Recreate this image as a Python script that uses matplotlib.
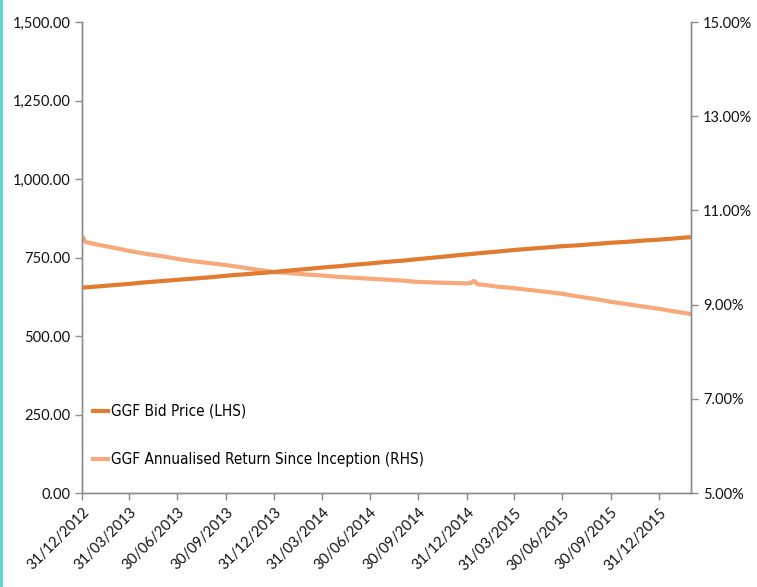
import matplotlib
matplotlib.use("Agg")
import matplotlib.pyplot as plt
import matplotlib.dates as mdates
from matplotlib.lines import Line2D
from matplotlib.ticker import FuncFormatter, MultipleLocator
from matplotlib import font_manager
import pandas as pd

# month-end bid price (LHS)
price_dates = pd.date_range("2012-12-31", "2016-02-29", freq="ME")
bid_price = [654, 658, 662, 666, 671, 675, 679, 683, 687, 692, 696, 700,
             704, 709, 713, 718, 722, 727, 731, 736, 740, 745, 750, 755,
             760, 765, 769, 774, 778, 782, 786, 789, 793, 797, 800, 804,
             807, 811, 815]

# annualised return since inception, % (RHS)
return_dates = pd.to_datetime([
    "2012-12-31", "2013-01-07", "2013-01-31", "2013-02-28", "2013-03-31",
    "2013-04-30", "2013-05-31", "2013-06-30", "2013-07-31", "2013-08-31",
    "2013-09-30", "2013-10-31", "2013-11-30", "2013-12-31", "2014-01-31",
    "2014-02-28", "2014-03-31", "2014-04-30", "2014-05-31", "2014-06-30",
    "2014-07-31", "2014-08-31", "2014-09-30", "2014-10-31", "2014-11-30",
    "2014-12-31", "2015-01-08", "2015-01-12", "2015-01-16", "2015-01-20",
    "2015-01-31", "2015-02-28", "2015-03-31", "2015-04-30", "2015-05-31",
    "2015-06-30", "2015-07-31", "2015-08-31", "2015-09-30", "2015-10-31",
    "2015-11-30", "2015-12-31", "2016-01-31", "2016-02-29"])
ann_return = [10.46, 10.33, 10.27, 10.21, 10.14, 10.08, 10.03, 9.97, 9.92,
              9.88, 9.84, 9.79, 9.74, 9.69, 9.67, 9.64, 9.62, 9.59, 9.57,
              9.55, 9.53, 9.51, 9.48, 9.47, 9.46, 9.45, 9.46, 9.50, 9.49,
              9.43, 9.42, 9.38, 9.35, 9.31, 9.27, 9.23, 9.17, 9.12, 9.06,
              9.01, 8.96, 8.91, 8.85, 8.80]

tick_dates = pd.to_datetime([
    "2012-12-31", "2013-03-31", "2013-06-30", "2013-09-30", "2013-12-31",
    "2014-03-31", "2014-06-30", "2014-09-30", "2014-12-31", "2015-03-31",
    "2015-06-30", "2015-09-30", "2015-12-31"])
pct_ticks = [5, 7, 9, 11, 13, 15]

dark_orange = "#E07B2F"
light_orange = "#F7A97C"
axis_grey = "#8C8C8C"

plt.rcParams["font.family"] = ["Lato", "DejaVu Sans"]

# narrow face for the legend, if one is installed
font_names = {f.name for f in font_manager.fontManager.ttflist}
if "Liberation Sans Narrow" in font_names:
    legend_font = {"family": "Liberation Sans Narrow", "size": 12}
else:
    legend_font = {"family": "DejaVu Sans", "stretch": "condensed",
                   "size": 11}

fig = plt.figure(figsize=(7.57, 5.87), dpi=100)
ax = fig.add_axes([0.1083, 0.1601, 0.8045, 0.8024])
ax2 = ax.twinx()

ax2.plot(return_dates, ann_return, color=light_orange, lw=3,
         solid_capstyle="butt")
ax.plot(price_dates, bid_price, color=dark_orange, lw=3,
        solid_capstyle="butt")
ax.set_zorder(ax2.get_zorder() + 1)
ax.patch.set_visible(False)

ax.set_xlim(pd.Timestamp("2012-12-31"), pd.Timestamp("2016-02-29"))
ax.set_ylim(0, 1500)
ax2.set_ylim(5, 15)
ax.yaxis.set_major_locator(MultipleLocator(250))
ax2.set_yticks(pct_ticks)
ax.yaxis.set_major_formatter(FuncFormatter(lambda v, p: f"{v:,.2f}"))
ax2.yaxis.set_major_formatter(FuncFormatter(lambda v, p: f"{v:.2f}%"))

ax.set_xticks(tick_dates)
ax.xaxis.set_major_formatter(mdates.DateFormatter("%d/%m/%Y"))
for lbl in ax.get_xticklabels():
    lbl.set_rotation(45)
    lbl.set_ha("right")
    lbl.set_rotation_mode("anchor")

for a in (ax, ax2):
    a.spines["top"].set_visible(False)
    for s in ("left", "right", "bottom"):
        a.spines[s].set_color(axis_grey)
        a.spines[s].set_linewidth(1)
    a.tick_params(colors=axis_grey, labelcolor="#111111", labelsize=10.5,
                  length=5, width=1)
ax.tick_params(axis="x", pad=4)

handles = [Line2D([], [], color=dark_orange, lw=3),
           Line2D([], [], color=light_orange, lw=3)]
labels = ["GGF Bid Price (LHS)", "GGF Annualised Return Since Inception (RHS)"]
ax.legend(handles, labels, loc="lower left", bbox_to_anchor=(-0.005, 0.025),
          frameon=False, handlelength=1.0, handletextpad=0.2,
          labelspacing=2.2, prop=legend_font)

# thin cyan rule down the left edge
fig.add_artist(Line2D([0.0015, 0.0015], [0, 1], transform=fig.transFigure,
                      color="#4FD3DA", lw=2))

fig.savefig("out.png", dpi=100)
